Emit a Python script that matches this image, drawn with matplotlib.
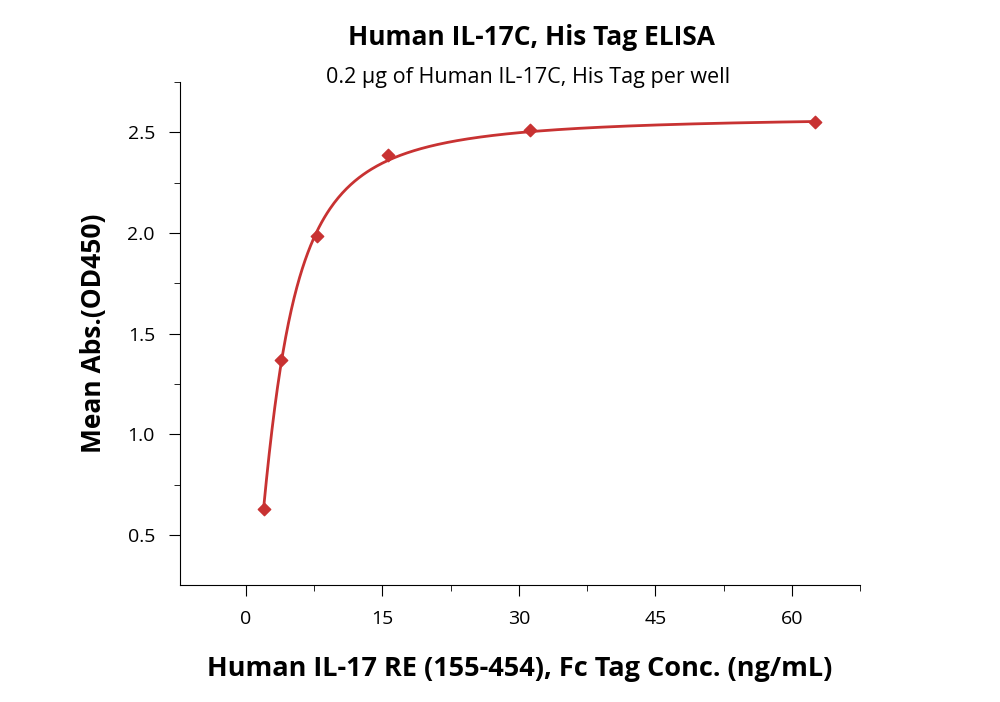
import numpy as np
import matplotlib
matplotlib.use("Agg")
import matplotlib.pyplot as plt
from matplotlib.ticker import MultipleLocator

conc = [1.95, 3.9, 7.8, 15.6, 31.25, 62.5]
absorb = [0.63, 1.37, 1.985, 2.39, 2.51, 2.55]
xticks = [0, 15, 30, 45, 60]
yticks = [0.5, 1.0, 1.5, 2.0, 2.5]
color = "#C83232"

plt.rcParams['font.family'] = ['Open Sans', 'DejaVu Sans']

# 4PL fit by coarse grid search
x = np.array(conc); y = np.array(absorb)
best = None
for a in np.linspace(-6, 0.5, 40):
    for d in np.linspace(2.5, 2.7, 21):
        for c in np.linspace(0.5, 8, 40):
            for b in np.linspace(0.6, 3, 25):
                f = d + (a - d) / (1 + (x / c) ** b)
                e = np.sum((f - y) ** 2)
                if best is None or e < best[0]:
                    best = (e, a, d, c, b)
_, a, d, c, b = best
xs = np.linspace(x.min(), x.max(), 400)
ys = d + (a - d) / (1 + (xs / c) ** b)

fig = plt.figure(figsize=(10, 7.02), dpi=100)
ax = fig.add_axes([0.18, 0.1667, 0.68, 0.7163])
ax.plot(xs, ys, color=color, lw=2)
ax.scatter(x, y, marker='D', s=40, color=color, zorder=3)
ax.set_xlim(-7.25, 67.5)
ax.set_ylim(0.252, 2.75)
ax.set_xticks(xticks)
ax.set_yticks(yticks)
ax.xaxis.set_minor_locator(MultipleLocator(7.5))
ax.yaxis.set_minor_locator(MultipleLocator(0.25))
for s in ['top', 'right']:
    ax.spines[s].set_visible(False)
ax.tick_params(which='major', direction='out', length=8, labelsize=14, pad=10)
ax.tick_params(which='minor', direction='out', length=4)
ax.set_xlabel("Human IL-17 RE (155-454), Fc Tag Conc. (ng/mL)", fontsize=19.5, fontweight='bold', labelpad=20)
ax.set_ylabel("Mean Abs.(OD450)", fontsize=19, fontweight='bold', labelpad=15)
fig.text(0.531, 0.947, "Human IL-17C, His Tag ELISA", ha='center', va='center', fontsize=19, fontweight='bold')
fig.text(0.528, 0.89, "0.2 μg of Human IL-17C, His Tag per well", ha='center', va='center', fontsize=15.5)
fig.savefig("out.png", dpi=100)
